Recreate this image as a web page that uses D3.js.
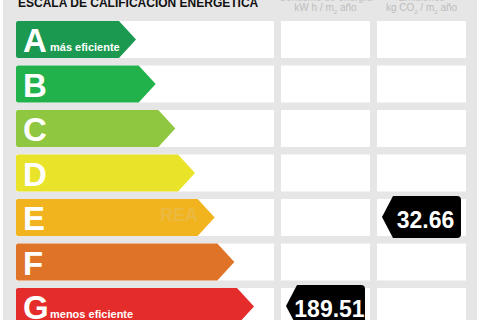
<!DOCTYPE html>
<html lang="es">
<head>
<meta charset="utf-8">
<title>Escala de calificación energética</title>
<style>
  body { margin: 0; background: #fff; }
  svg { display: block; font-family: "Liberation Sans", Arial, sans-serif; }
</style>
</head>
<body>
<div id="chart"></div>
<script src="https://cdnjs.cloudflare.com/ajax/libs/d3/7.8.5/d3.min.js"></script>
<script>
  // classes, colours and the labelled values
  var classes = ["A", "B", "C", "D", "E", "F", "G"];
  var classColors = ["#1b9950", "#22b24c", "#8fc740", "#e9e42a", "#f1b41f", "#df7428", "#e42d2b"];
  var classNotes = ["más eficiente", "", "", "", "", "", "menos eficiente"];
  var columns = ["consumo", "emisiones"];
  var columnTitles = ["Consumo de energía", "Emisiones"];
  var columnUnits = ["kW h / m", "kg CO"];
  var ratingClass = ["G", "E"];
  var ratingValue = [189.51, 32.66];

  var width = 480, height = 320;

  var svg = d3.select("#chart").append("svg")
      .attr("width", width)
      .attr("height", height);

  // grey panel
  svg.append("rect")
     .attr("x", 3).attr("y", 0)
     .attr("width", 474).attr("height", height)
     .attr("fill", "#e6e6e6");

  var y = d3.scaleBand()
      .domain(classes)
      .range([17.25, 17.25 + 7 * 44.5])
      .paddingInner(0.17)
      .paddingOuter(0.085);

  // tip of each arrow grows with the class index
  var tipX = d3.scaleLinear().domain([0, 6]).range([136, 254]);
  var arrowLeft = 16, arrowHead = 17;

  var colX = d3.scaleOrdinal().domain(columns).range([281, 377]);
  var colW = 89;

  // title
  svg.append("text")
     .attr("x", 18).attr("y", 7)
     .attr("font-size", 12).attr("font-weight", "bold")
     .attr("fill", "#111")
     .text("ESCALA DE CALIFICACIÓN ENERGÉTICA");

  // column headers
  columns.forEach(function(c, i){
      var cx = colX(c) + colW / 2;
      svg.append("text")
         .attr("x", cx).attr("y", 1)
         .attr("text-anchor", "middle")
         .attr("font-size", 10).attr("fill", "#c4c4c4")
         .text(columnTitles[i]);
      var t = svg.append("text")
         .attr("x", cx).attr("y", 11)
         .attr("text-anchor", "middle")
         .attr("font-size", 10).attr("fill", "#bdbdbd");
      t.append("tspan").text(columnUnits[i]);
      t.append("tspan").attr("font-size", 6).attr("dy", 3).text("2");
      if (i == 1) {
          t.append("tspan").attr("dy", -3).text(" / m");
          t.append("tspan").attr("font-size", 6).attr("dy", 3).text("2");
      }
      t.append("tspan").attr("dy", -3).text(" año");
  });

  var rows = svg.selectAll("g.row")
      .data(classes)
      .enter().append("g")
      .attr("class", "row")
      .attr("transform", function(d){ return "translate(0," + y(d) + ")"; });

  // white boxes
  rows.append("rect")
      .attr("x", 16).attr("y", 0)
      .attr("width", 258).attr("height", y.bandwidth())
      .attr("fill", "#fff");
  columns.forEach(function(c){
      rows.append("rect")
          .attr("x", colX(c)).attr("y", 0)
          .attr("width", colW).attr("height", y.bandwidth())
          .attr("fill", "#fff");
  });

  // coloured arrows
  var h = y.bandwidth();
  rows.append("path")
      .attr("d", function(d, i){
          var t = tipX(i), b = t - arrowHead, r = 2;
          return "M" + (arrowLeft + r) + ",0 L" + b + ",0 L" + t + "," + (h / 2) +
                 " L" + b + "," + h + " L" + (arrowLeft + r) + "," + h +
                 " Q" + arrowLeft + "," + h + " " + arrowLeft + "," + (h - r) +
                 " L" + arrowLeft + "," + r + " Q" + arrowLeft + ",0 " + (arrowLeft + r) + ",0 Z";
      })
      .attr("fill", function(d, i){ return classColors[i]; });

  rows.append("text")
      .attr("x", 23).attr("y", 31)
      .attr("font-size", 33).attr("font-weight", "bold")
      .attr("fill", "#fff")
      .text(function(d){ return d; });

  rows.append("text")
      .attr("x", 50).attr("y", 30)
      .attr("font-size", 11).attr("font-weight", "bold")
      .attr("fill", "#fff")
      .text(function(d, i){ return classNotes[i]; });

  // faint watermark
  svg.append("text")
     .attr("x", 160).attr("y", 221)
     .attr("font-size", 18).attr("font-weight", "bold")
     .attr("fill", "#d9cbb5").attr("opacity", 0.22)
     .text("REA");

  // black value badges
  columns.forEach(function(c, i){
      var x0 = colX(c) + 5, x1 = colX(c) + colW - 5;
      var top = y(ratingClass[i]) - 3, bh = h + 5, r = 4;
      var g = svg.append("g");
      g.append("path")
       .attr("d", "M" + x0 + "," + (top + bh / 2) + " L" + (x0 + 11) + "," + top +
                  " L" + (x1 - r) + "," + top + " Q" + x1 + "," + top + " " + x1 + "," + (top + r) +
                  " L" + x1 + "," + (top + bh - r) + " Q" + x1 + "," + (top + bh) + " " + (x1 - r) + "," + (top + bh) +
                  " L" + (x0 + 11) + "," + (top + bh) + " Z")
       .attr("fill", "#000");
      g.append("text")
       .attr("x", (x0 + 8 + x1) / 2).attr("y", top + 32)
       .attr("text-anchor", "middle")
       .attr("font-size", 23).attr("font-weight", "bold")
       .attr("fill", "#fff")
       .text(d3.format(".2f")(ratingValue[i]));
  });
</script>
</body>
</html>
